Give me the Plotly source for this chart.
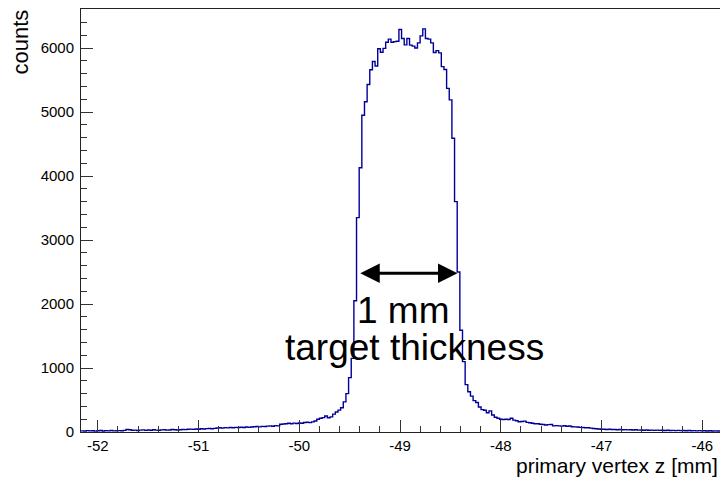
import numpy as np
import plotly.graph_objects as go

# histogram binning (primary vertex z in mm)
z_min = -52.166
bin_width = 0.02629

counts = [
    18, 15, 22, 17, 20, 14, 19, 23, 16, 21, 18, 24, 17, 20, 22, 19, 25,
    38, 34,
    27, 30, 24, 29, 33, 26, 31, 28, 35, 30, 27, 33, 36, 29, 32, 38, 34, 31, 36, 40, 37, 42,
    45, 41, 47, 44, 50, 46, 52,
    55, 51, 57,
    62, 66, 60, 68, 64, 70, 67, 72, 69,
    74, 71, 77, 73, 79,
    82, 86, 80, 88, 85,
    92, 96, 90, 99, 95,
    122, 126,
    130, 136, 128, 138, 133, 140, 137,
    148, 152, 146, 158,
    172, 200, 215, 224, 250, 222, 236, 280, 312, 342,
    380, 470, 600, 850, 1150, 2050, 3350, 4130,
    4950, 5160, 5430, 5660, 5790, 5720, 5990, 5935, 5995, 6090,
    6140, 6090, 6100, 6105, 6290, 6150, 6050, 6150, 6045, 6030,
    6000, 6080, 6190, 6300, 6150, 6140, 6080, 5930, 5960, 5925,
    5710, 5665, 5370, 5190, 4590, 3600, 2500, 1590, 1100, 740,
    630, 560, 490, 460,
    390, 350, 340, 300, 330, 265, 230, 215, 200, 195,
    200, 195, 214, 185, 175, 160, 165, 170, 150, 145,
    136, 130, 128, 120, 118, 110, 115, 118, 95, 100,
    96, 92, 98, 90, 94, 83, 80, 78, 72, 70,
    67, 66, 60, 55, 50, 48, 42, 44, 40, 42, 38,
    40, 36, 38, 34, 37, 33, 35, 31, 34, 30, 32, 28, 31, 27, 30, 26, 29, 25, 28, 24,
    27, 23, 26, 22, 25, 21, 24, 20, 23, 19, 22, 18, 21, 17, 20, 16, 19, 15, 18, 16, 17,
]

x_ticks = [-52, -51, -50, -49, -48, -47, -46]
x_ticktext = ["-52", "-51", "-50", "-49", "-48", "-47", "-46"]

x_range = [-52.166, -45.825]
y_range = [0, 6610]

edges = z_min + bin_width * np.arange(len(counts) + 1)
steps = counts + [counts[-1]]

font = "Liberation Sans, Arial, Helvetica, sans-serif"
blue = "#000099"

fig = go.Figure()

fig.add_trace(
    go.Scatter(
        x=edges,
        y=steps,
        mode="lines",
        line=dict(color=blue, width=1.4, shape="hv"),
        showlegend=False,
        hoverinfo="skip"
    )
)

fig.update_layout(
    width=720,
    height=477,
    margin=dict(l=81, r=0, t=9, b=45, autoexpand=False),
    paper_bgcolor="white",
    plot_bgcolor="white",
    font=dict(family=font, color="black", size=15),
    showlegend=False
)

fig.update_xaxes(
    range=x_range,
    tickvals=x_ticks,
    ticktext=x_ticktext,
    ticks="inside",
    ticklen=12,
    tickwidth=1,
    tickcolor="#333333",
    minor=dict(dtick=0.2, tick0=-52, ticks="inside", ticklen=6, tickcolor="#333333", tickwidth=1),
    showgrid=False,
    zeroline=False,
    showline=True,
    linecolor="#222222",
    linewidth=1,
    mirror=True,
    tickfont=dict(size=15),
    ticklabelstandoff=0
)

fig.update_yaxes(
    range=y_range,
    dtick=1000,
    tick0=0,
    ticks="inside",
    ticklen=12,
    tickwidth=1,
    tickcolor="#333333",
    minor=dict(dtick=200, ticks="inside", ticklen=6, tickcolor="#333333", tickwidth=1),
    showgrid=False,
    zeroline=False,
    showline=True,
    linecolor="#222222",
    linewidth=1,
    mirror=True,
    tickfont=dict(size=15),
    ticklabelstandoff=3
)

# double arrow marking the target thickness
fig.add_annotation(
    x=-48.43, y=2480, ax=-49.41, ay=2480,
    xref="x", yref="y", axref="x", ayref="y",
    text="",
    showarrow=True,
    arrowside="end+start",
    arrowhead=2,
    arrowsize=1.3,
    arrowwidth=3,
    arrowcolor="black",
    standoff=0,
    startstandoff=0
)

fig.add_annotation(
    x=-48.964, y=1900, xref="x", yref="y",
    text="1 mm", showarrow=False,
    font=dict(size=37, color="black"),
    xanchor="center", yanchor="middle"
)

fig.add_annotation(
    x=-48.86, y=1325, xref="x", yref="y",
    text="target thickness", showarrow=False,
    font=dict(size=37, color="black"),
    xanchor="center", yanchor="middle"
)

# axis titles, ROOT style (right/top aligned)
fig.add_annotation(
    x=(20 - 81) / 639, y=(432 - 8) / 423, xref="paper", yref="paper",
    text="counts", textangle=-90, showarrow=False,
    font=dict(size=22, color="black"),
    xanchor="center", yanchor="top"
)

fig.add_annotation(
    x=1.0, y=(432 - 466) / 423, xref="paper", yref="paper",
    text="primary vertex z [mm]", showarrow=False,
    font=dict(size=21, color="black"),
    xanchor="right", yanchor="middle"
)

# drop the browser's default page margin so the figure sits at (0, 0)
fig.write_html(
    "out.html",
    config={"displayModeBar": False},
    post_script="document.body.style.margin = '0';"
)
